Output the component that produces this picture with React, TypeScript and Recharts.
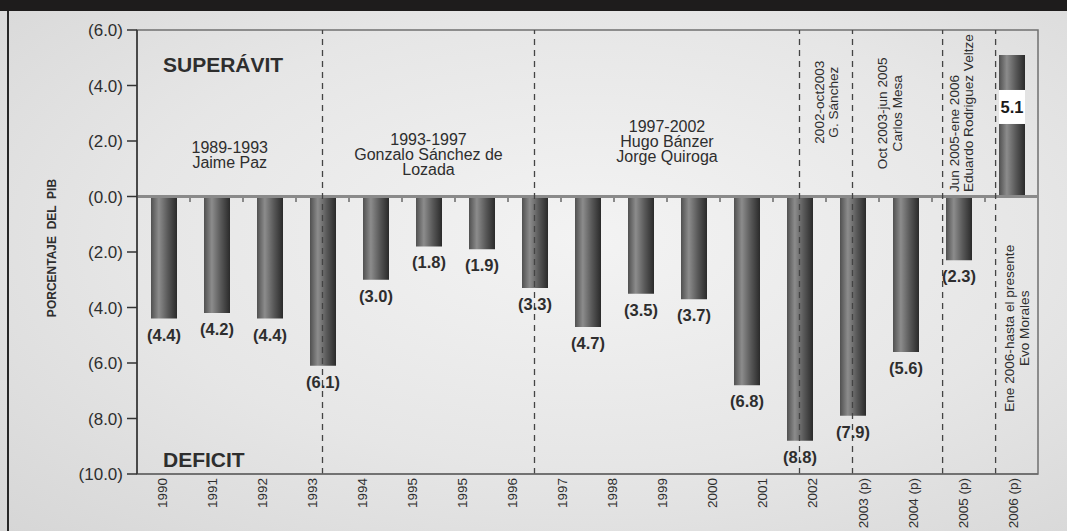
import React from "react";
import { BarChart, Bar, XAxis, YAxis, ReferenceLine, ReferenceArea, LabelList, Label } from "recharts";

const FONT = "'Liberation Sans', Arial, Helvetica, sans-serif";
const INK = "#2e2e2e";

// fiscal balance, % of GDP (negative = deficit)
const BAR_YEARS = [
  "1990", "1991", "1992", "1993", "1994", "1995", "1996", "1997", "1998",
  "1999", "2000", "2001", "2002", "2003", "2004", "2005", "2006",
];
const BALANCE = [-4.4, -4.2, -4.4, -6.1, -3.0, -1.8, -1.9, -3.3, -4.7, -3.5, -3.7, -6.8, -8.8, -7.9, -5.6, -2.3, 5.1];

// the printed axis repeats 1995, so it carries 18 labels under 17 bars
const AXIS_LABELS = [
  "1990", "1991", "1992", "1993", "1994", "1995", "1995", "1996", "1997", "1998",
  "1999", "2000", "2001", "2002", "2003 (p)", "2004 (p)", "2005 (p)", "2006 (p)",
];
const Y_TICKS = [6, 4, 2, 0, -2, -4, -6, -8, -10];

// government changes, in bar slots
const PERIOD_BREAKS = [3.5, 7.5, 12.5, 13.5, 15.2, 16.2];
const PERIOD_TEXT = [
  ["1989-1993", "Jaime Paz"],
  ["1993-1997", "Gonzalo Sánchez de", "Lozada"],
  ["1997-2002", "Hugo Bánzer", "Jorge Quiroga"],
  ["2002-oct2003", "G. Sánchez"],
  ["Oct 2003-jun 2005", "Carlos Mesa"],
  ["Jun 2005-ene 2006", "Eduardo Rodriguez Veltze"],
  ["Ene 2006-hasta el presente", "Evo Morales"],
];

const data = BAR_YEARS.map((year, i) => ({ year, value: BALANCE[i] }));
const edges = [0, ...PERIOD_BREAKS, BAR_YEARS.length];

// where each period caption sits (y in chart units)
const captionLayout = [
  { y: 1.5, rotate: false },
  { y: 1.5, rotate: false },
  { y: 2.0, rotate: false },
  { y: 3.4, rotate: true },
  { y: 3.0, rotate: true, dx: -8 },
  { y: 0.16, rotate: true, dx: -8, anchor: "start" },
  { y: -4.75, rotate: true },
];

const caption = (lines: string[], opts: any) => (props: any) => {
  const vb = props.viewBox;
  if (!vb) return null;
  const cx = vb.x + vb.width / 2 + (opts.dx || 0);
  const cy = vb.y + vb.height / 2;
  const lh = opts.rotate ? 14.5 : 15;
  const mid = (lines.length - 1) / 2;
  return (
    <g>
      {lines.map((t, k) => {
        if (opts.rotate) {
          const x = cx + (k - mid) * lh;
          return (
            <text key={k} x={x} y={cy} dy="0.35em" transform={`rotate(-90 ${x} ${cy})`}
              textAnchor={opts.anchor || "middle"} fontSize={13.6} fill={INK} fontFamily={FONT}>{t}</text>
          );
        }
        return (
          <text key={k} x={cx} y={cy + (k - mid) * lh} dy="0.35em" textAnchor="middle"
            fontSize={16} fill={INK} fontFamily={FONT}>{t}</text>
        );
      })}
    </g>
  );
};

const bigWord = (word: string) => (props: any) => {
  const vb = props.viewBox;
  if (!vb) return null;
  return (
    <text x={vb.x + 26} y={vb.y + vb.height / 2} dy="0.35em" fontSize={21} fontWeight="bold"
      fill={INK} fontFamily={FONT}>{word}</text>
  );
};

const ValueLabel = (props: any) => {
  const { x, y, width, height, value } = props;
  const top = Math.min(y, y + height);
  const bottom = Math.max(y, y + height);
  const cx = x + width / 2;
  if (value < 0) {
    return (
      <text x={cx} y={bottom + 22} textAnchor="middle" fontSize={16.5} fontWeight="bold" fill={INK} fontFamily={FONT}>
        ({Math.abs(value).toFixed(1)})
      </text>
    );
  }
  return (
    <g>
      <rect x={x} y={top + 35} width={width} height={34} fill="#ffffff" />
      <text x={cx} y={top + 58} textAnchor="middle" fontSize={16.5} fontWeight="bold" fill="#1a1a1a" fontFamily={FONT}>
        {value.toFixed(1)}
      </text>
    </g>
  );
};

const YearTick = (props: any) => {
  const { x, y, payload } = props;
  const label = AXIS_LABELS[Math.floor(payload.value)];
  return (
    <text x={x} y={y} dy="0.35em" transform={`rotate(-90 ${x} ${y})`} textAnchor="end"
      fontSize={13.5} fill={INK} fontFamily={FONT}>{label}</text>
  );
};

const yTitle = (props: any) => {
  const vb = props.viewBox;
  if (!vb) return null;
  const x = vb.x + 44;
  const y = vb.y + vb.height / 2 - 4;
  return (
    <text x={x} y={y} dy="0.35em" transform={`rotate(-90 ${x} ${y})`} textAnchor="middle"
      fontSize={12} fontWeight="bold" fill={INK} fontFamily={FONT} style={{ whiteSpace: "pre" }}>
      PORCENTAJE  DEL  PIB
    </text>
  );
};

export default function App() {
  return (
    <div style={{
      position: "relative", width: 1067, height: 531, overflow: "hidden",
      background: "radial-gradient(ellipse at 55% 45%, #f3f3f3 0%, #e6e6e6 55%, #d6d6d6 100%)",
    }}>
      <style>{"body{margin:0}"}</style>
      <div style={{ position: "absolute", left: 0, top: 0, width: 1067, height: 11, background: "#1e1c1c" }} />
      <div style={{ position: "absolute", left: 7, top: 11, width: 2, height: 520, background: "#262626" }} />
      <div style={{ position: "absolute", left: 0, top: 0 }}>
        <BarChart width={1067} height={531} data={data} margin={{ top: 30, right: 29, left: 8, bottom: 7 }}>
          <defs>
            <linearGradient id="barShade" x1="0" y1="0" x2="1" y2="0">
              <stop offset="0%" stopColor="#505050" />
              <stop offset="30%" stopColor="#8c8c8c" />
              <stop offset="65%" stopColor="#585858" />
              <stop offset="100%" stopColor="#2a2a2a" />
            </linearGradient>
          </defs>
          <XAxis xAxisId="lbl" type="number" dataKey="value" domain={[0, AXIS_LABELS.length]} allowDataOverflow
            ticks={AXIS_LABELS.map((_, i) => i + 0.5)} interval={0} height={50}
            tick={<YearTick />} tickLine={false} tickSize={2} tickMargin={2}
            axisLine={{ stroke: "#6a6a6a", strokeWidth: 1.5 }} />
          <XAxis xAxisId="cat" dataKey="year" hide height={0} padding={{ left: 0, right: 0 }} />
          <XAxis xAxisId="t" type="number" dataKey="value" hide height={0}
            domain={[0, BAR_YEARS.length]} allowDataOverflow />
          <YAxis domain={[-10, 6]} ticks={Y_TICKS} interval={0} width={129} allowDataOverflow
            tickFormatter={(v: number) => `(${Math.abs(v).toFixed(1)})`}
            tick={{ fontSize: 17, fill: INK, fontFamily: FONT }}
            tickSize={10} tickMargin={4}
            tickLine={{ stroke: "#333", strokeWidth: 1.5 }}
            axisLine={{ stroke: "#333", strokeWidth: 1.5 }}>
            <Label content={yTitle} />
          </YAxis>

          <ReferenceArea xAxisId="t" x1={0} x2={BAR_YEARS.length} y1={-10} y2={6}
            fill="none" stroke="#707070" strokeWidth={1.5} ifOverflow="visible" />

          {PERIOD_TEXT.map((lines, i) => (
            <ReferenceArea key={"p" + i} xAxisId="t" x1={edges[i]} x2={edges[i + 1]}
              y1={captionLayout[i].y - 0.5} y2={captionLayout[i].y + 0.5}
              fill="none" stroke="none" label={caption(lines, captionLayout[i])} />
          ))}
          <ReferenceArea xAxisId="t" x1={0} x2={edges[1]} y1={4.24} y2={5.24} fill="none" stroke="none"
            label={bigWord("SUPERÁVIT")} />
          <ReferenceArea xAxisId="t" x1={0} x2={edges[1]} y1={-9.9} y2={-9.1} fill="none" stroke="none"
            label={bigWord("DEFICIT")} />

          <Bar xAxisId="cat" dataKey="value" fill="url(#barShade)" barSize={26} isAnimationActive={false}>
            <LabelList dataKey="value" content={<ValueLabel />} />
          </Bar>

          <ReferenceLine xAxisId="t" y={0} stroke="#8a8a8a" strokeWidth={3} />
          {BAR_YEARS.map((_, i) => (
            <ReferenceLine key={"z" + i} xAxisId="t" stroke="#8a8a8a" strokeWidth={2}
              segment={[{ x: i, y: 0 }, { x: i, y: -0.2 }]} />
          ))}
          {PERIOD_BREAKS.map((b) => (
            <ReferenceLine key={"b" + b} xAxisId="t" x={b} stroke="#444" strokeWidth={1.3} strokeDasharray="6 5" />
          ))}
        </BarChart>
      </div>
    </div>
  );
}
